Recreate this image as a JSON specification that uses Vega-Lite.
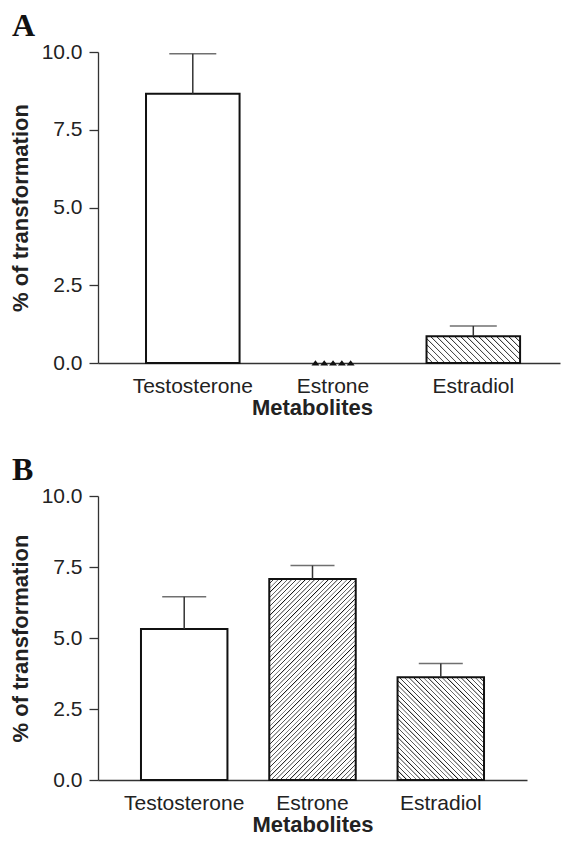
{
  "$schema": "https://vega.github.io/schema/vega-lite/v6.json",
  "padding": {"left": 9, "top": 10, "right": 5, "bottom": 5},
  "spacing": 36,
  "background": "white",
  "datasets": {
    "A": [
      {"metabolite": "Testosterone", "value": 8.66, "upper": 9.94},
      {"metabolite": "Estrone", "value": 0, "upper": 0},
      {"metabolite": "Estradiol", "value": 0.86, "upper": 1.19}
    ],
    "B": [
      {"metabolite": "Testosterone", "value": 5.32, "upper": 6.45},
      {"metabolite": "Estrone", "value": 7.08, "upper": 7.55},
      {"metabolite": "Estradiol", "value": 3.62, "upper": 4.10}
    ]
  },
  "config": {
    "view": {"stroke": null},
    "font": "Liberation Sans",
    "axis": {"domainColor": "#333", "tickColor": "#333", "labelColor": "#222", "titleColor": "#222", "labelFont": "Liberation Sans", "titleFont": "Liberation Sans", "labelFontSize": 21, "titleFontSize": 22, "titleFontWeight": "bold", "grid": false, "domainWidth": 1.3, "tickWidth": 1.3},
    "axisY": {"tickSize": 9, "labelPadding": 7, "titlePadding": 9},
    "axisX": {"ticks": false, "tickSize": 0, "labelAngle": 0, "labelPadding": 12, "titlePadding": 1}
  },
  "vconcat": [
    {
      "title": {"text": "A", "anchor": "start", "frame": "group", "font": "Liberation Serif", "fontSize": 32, "fontWeight": "bold", "color": "#111", "dx": -86, "dy": 31, "offset": 4, "baseline": "alphabetic"},
      "width": 462,
      "height": 311,
      "data": {"name": "A"},
      "encoding": {
        "x": {"field": "metabolite", "type": "nominal", "sort": ["Testosterone", "Estrone", "Estradiol"], "scale": {"paddingInner": 0.333, "paddingOuter": 0.3135, "align": 0.546}, "axis": {"title": "Metabolites", "titleX": 214}}
      },
      "layer": [
        {
          "transform": [{"filter": "datum.metabolite === 'Testosterone'"}],
          "mark": {"type": "bar", "fill": "#fff", "stroke": "#111", "strokeWidth": 2},
          "encoding": {"y": {"field": "value", "type": "quantitative", "title": "% of transformation", "scale": {"domain": [0, 10], "nice": false}, "axis": {"values": [0, 2.5, 5, 7.5, 10], "format": ".1f"}}}
        },
        {
          "transform": [{"filter": "datum.metabolite === 'Estradiol'"}],
          "mark": {"type": "bar", "stroke": "#111", "strokeWidth": 2, "fill": {"gradient": "linear", "x1": 0, "y1": 1, "x2": 1.188, "y2": 0.6625, "stops": [
            {"offset": 0, "color": "#111"}, {"offset": 0.0125, "color": "#fff"}, {"offset": 0.045, "color": "#fff"},
            {"offset": 0.05, "color": "#111"}, {"offset": 0.0625, "color": "#fff"}, {"offset": 0.095, "color": "#fff"},
            {"offset": 0.1, "color": "#111"}, {"offset": 0.1125, "color": "#fff"}, {"offset": 0.145, "color": "#fff"},
            {"offset": 0.15, "color": "#111"}, {"offset": 0.1625, "color": "#fff"}, {"offset": 0.195, "color": "#fff"},
            {"offset": 0.2, "color": "#111"}, {"offset": 0.2125, "color": "#fff"}, {"offset": 0.245, "color": "#fff"},
            {"offset": 0.25, "color": "#111"}, {"offset": 0.2625, "color": "#fff"}, {"offset": 0.295, "color": "#fff"},
            {"offset": 0.3, "color": "#111"}, {"offset": 0.3125, "color": "#fff"}, {"offset": 0.345, "color": "#fff"},
            {"offset": 0.35, "color": "#111"}, {"offset": 0.3625, "color": "#fff"}, {"offset": 0.395, "color": "#fff"},
            {"offset": 0.4, "color": "#111"}, {"offset": 0.4125, "color": "#fff"}, {"offset": 0.445, "color": "#fff"},
            {"offset": 0.45, "color": "#111"}, {"offset": 0.4625, "color": "#fff"}, {"offset": 0.495, "color": "#fff"},
            {"offset": 0.5, "color": "#111"}, {"offset": 0.5125, "color": "#fff"}, {"offset": 0.545, "color": "#fff"},
            {"offset": 0.55, "color": "#111"}, {"offset": 0.5625, "color": "#fff"}, {"offset": 0.595, "color": "#fff"},
            {"offset": 0.6, "color": "#111"}, {"offset": 0.6125, "color": "#fff"}, {"offset": 0.645, "color": "#fff"},
            {"offset": 0.65, "color": "#111"}, {"offset": 0.6625, "color": "#fff"}, {"offset": 0.695, "color": "#fff"},
            {"offset": 0.7, "color": "#111"}, {"offset": 0.7125, "color": "#fff"}, {"offset": 0.745, "color": "#fff"},
            {"offset": 0.75, "color": "#111"}, {"offset": 0.7625, "color": "#fff"}, {"offset": 0.795, "color": "#fff"},
            {"offset": 0.8, "color": "#111"}, {"offset": 0.8125, "color": "#fff"}, {"offset": 0.845, "color": "#fff"},
            {"offset": 0.85, "color": "#111"}, {"offset": 0.8625, "color": "#fff"}, {"offset": 0.895, "color": "#fff"},
            {"offset": 0.9, "color": "#111"}, {"offset": 0.9125, "color": "#fff"}, {"offset": 0.945, "color": "#fff"},
            {"offset": 0.95, "color": "#111"}, {"offset": 0.9625, "color": "#fff"}, {"offset": 0.995, "color": "#fff"},
            {"offset": 1, "color": "#111"}
          ]}},
          "encoding": {"y": {"field": "value", "type": "quantitative", "title": "% of transformation", "axis": {"values": [0, 2.5, 5, 7.5, 10], "format": ".1f"}}}
        },
        {
          "transform": [{"filter": "datum.metabolite !== 'Estrone'"}],
          "mark": {"type": "rule", "color": "#333", "strokeWidth": 1.5},
          "encoding": {"y": {"field": "value", "type": "quantitative", "title": "% of transformation", "axis": {"values": [0, 2.5, 5, 7.5, 10], "format": ".1f"}}, "y2": {"field": "upper"}}
        },
        {
          "transform": [{"filter": "datum.metabolite !== 'Estrone'"}],
          "mark": {"type": "tick", "color": "#333", "thickness": 1.5, "size": 47},
          "encoding": {"y": {"field": "upper", "type": "quantitative", "title": "% of transformation", "axis": {"values": [0, 2.5, 5, 7.5, 10], "format": ".1f"}}}
        },
        {
          "transform": [{"filter": "datum.metabolite === 'Estrone'"}],
          "mark": {"type": "point", "shape": "M-0.98,0.11L-0.8,-0.12L-0.62,0.11ZM-0.58,0.11L-0.4,-0.12L-0.22,0.11ZM-0.18,0.11L0,-0.12L0.18,0.11ZM0.22,0.11L0.4,-0.12L0.58,0.11ZM0.62,0.11L0.8,-0.12L0.98,0.11Z", "size": 1936, "filled": true, "color": "#111", "opacity": 1, "strokeWidth": 0},
          "encoding": {"y": {"field": "value", "type": "quantitative", "title": "% of transformation", "axis": {"values": [0, 2.5, 5, 7.5, 10], "format": ".1f"}}}
        }
      ]
    },
    {
      "title": {"text": "B", "anchor": "start", "frame": "group", "font": "Liberation Serif", "fontSize": 32, "fontWeight": "bold", "color": "#111", "dx": -86, "dy": 31, "offset": 4, "baseline": "alphabetic"},
      "width": 429,
      "height": 284,
      "data": {"name": "B"},
      "encoding": {
        "x": {"field": "metabolite", "type": "nominal", "sort": ["Testosterone", "Estrone", "Estradiol"], "scale": {"paddingInner": 0.326, "paddingOuter": 0.335, "align": 0.5}, "axis": {"title": "Metabolites"}}
      },
      "layer": [
        {
          "transform": [{"filter": "datum.metabolite === 'Testosterone'"}],
          "mark": {"type": "bar", "fill": "#fff", "stroke": "#111", "strokeWidth": 2},
          "encoding": {"y": {"field": "value", "type": "quantitative", "title": "% of transformation", "scale": {"domain": [0, 10], "nice": false}, "axis": {"values": [0, 2.5, 5, 7.5, 10], "format": ".1f"}}}
        },
        {
          "transform": [{"filter": "datum.metabolite === 'Estrone'"}],
          "mark": {"type": "bar", "stroke": "#111", "strokeWidth": 2, "fill": {"gradient": "linear", "x1": 0, "y1": 0, "x2": 0.5193, "y2": 1.2069, "stops": [
            {"offset": 0, "color": "#111"}, {"offset": 0.004, "color": "#fff"}, {"offset": 0.0144, "color": "#fff"},
            {"offset": 0.016, "color": "#111"}, {"offset": 0.02, "color": "#fff"}, {"offset": 0.0304, "color": "#fff"},
            {"offset": 0.032, "color": "#111"}, {"offset": 0.036, "color": "#fff"}, {"offset": 0.0464, "color": "#fff"},
            {"offset": 0.048, "color": "#111"}, {"offset": 0.052, "color": "#fff"}, {"offset": 0.0624, "color": "#fff"},
            {"offset": 0.064, "color": "#111"}, {"offset": 0.068, "color": "#fff"}, {"offset": 0.0784, "color": "#fff"},
            {"offset": 0.08, "color": "#111"}, {"offset": 0.084, "color": "#fff"}, {"offset": 0.0944, "color": "#fff"},
            {"offset": 0.096, "color": "#111"}, {"offset": 0.1, "color": "#fff"}, {"offset": 0.1104, "color": "#fff"},
            {"offset": 0.112, "color": "#111"}, {"offset": 0.116, "color": "#fff"}, {"offset": 0.1264, "color": "#fff"},
            {"offset": 0.128, "color": "#111"}, {"offset": 0.132, "color": "#fff"}, {"offset": 0.1424, "color": "#fff"},
            {"offset": 0.144, "color": "#111"}, {"offset": 0.148, "color": "#fff"}, {"offset": 0.1584, "color": "#fff"},
            {"offset": 0.16, "color": "#111"}, {"offset": 0.164, "color": "#fff"}, {"offset": 0.1744, "color": "#fff"},
            {"offset": 0.176, "color": "#111"}, {"offset": 0.18, "color": "#fff"}, {"offset": 0.1904, "color": "#fff"},
            {"offset": 0.192, "color": "#111"}, {"offset": 0.196, "color": "#fff"}, {"offset": 0.2064, "color": "#fff"},
            {"offset": 0.208, "color": "#111"}, {"offset": 0.212, "color": "#fff"}, {"offset": 0.2224, "color": "#fff"},
            {"offset": 0.224, "color": "#111"}, {"offset": 0.228, "color": "#fff"}, {"offset": 0.2384, "color": "#fff"},
            {"offset": 0.24, "color": "#111"}, {"offset": 0.244, "color": "#fff"}, {"offset": 0.2544, "color": "#fff"},
            {"offset": 0.256, "color": "#111"}, {"offset": 0.26, "color": "#fff"}, {"offset": 0.2704, "color": "#fff"},
            {"offset": 0.272, "color": "#111"}, {"offset": 0.276, "color": "#fff"}, {"offset": 0.2864, "color": "#fff"},
            {"offset": 0.288, "color": "#111"}, {"offset": 0.292, "color": "#fff"}, {"offset": 0.3024, "color": "#fff"},
            {"offset": 0.304, "color": "#111"}, {"offset": 0.308, "color": "#fff"}, {"offset": 0.3184, "color": "#fff"},
            {"offset": 0.32, "color": "#111"}, {"offset": 0.324, "color": "#fff"}, {"offset": 0.3344, "color": "#fff"},
            {"offset": 0.336, "color": "#111"}, {"offset": 0.34, "color": "#fff"}, {"offset": 0.3504, "color": "#fff"},
            {"offset": 0.352, "color": "#111"}, {"offset": 0.356, "color": "#fff"}, {"offset": 0.3664, "color": "#fff"},
            {"offset": 0.368, "color": "#111"}, {"offset": 0.372, "color": "#fff"}, {"offset": 0.3824, "color": "#fff"},
            {"offset": 0.384, "color": "#111"}, {"offset": 0.388, "color": "#fff"}, {"offset": 0.3984, "color": "#fff"},
            {"offset": 0.4, "color": "#111"}, {"offset": 0.404, "color": "#fff"}, {"offset": 0.4144, "color": "#fff"},
            {"offset": 0.416, "color": "#111"}, {"offset": 0.42, "color": "#fff"}, {"offset": 0.4304, "color": "#fff"},
            {"offset": 0.432, "color": "#111"}, {"offset": 0.436, "color": "#fff"}, {"offset": 0.4464, "color": "#fff"},
            {"offset": 0.448, "color": "#111"}, {"offset": 0.452, "color": "#fff"}, {"offset": 0.4624, "color": "#fff"},
            {"offset": 0.464, "color": "#111"}, {"offset": 0.468, "color": "#fff"}, {"offset": 0.4784, "color": "#fff"},
            {"offset": 0.48, "color": "#111"}, {"offset": 0.484, "color": "#fff"}, {"offset": 0.4944, "color": "#fff"},
            {"offset": 0.496, "color": "#111"}, {"offset": 0.5, "color": "#fff"}, {"offset": 0.5104, "color": "#fff"},
            {"offset": 0.512, "color": "#111"}, {"offset": 0.516, "color": "#fff"}, {"offset": 0.5264, "color": "#fff"},
            {"offset": 0.528, "color": "#111"}, {"offset": 0.532, "color": "#fff"}, {"offset": 0.5424, "color": "#fff"},
            {"offset": 0.544, "color": "#111"}, {"offset": 0.548, "color": "#fff"}, {"offset": 0.5584, "color": "#fff"},
            {"offset": 0.56, "color": "#111"}, {"offset": 0.564, "color": "#fff"}, {"offset": 0.5744, "color": "#fff"},
            {"offset": 0.576, "color": "#111"}, {"offset": 0.58, "color": "#fff"}, {"offset": 0.5904, "color": "#fff"},
            {"offset": 0.592, "color": "#111"}, {"offset": 0.596, "color": "#fff"}, {"offset": 0.6064, "color": "#fff"},
            {"offset": 0.608, "color": "#111"}, {"offset": 0.612, "color": "#fff"}, {"offset": 0.6224, "color": "#fff"},
            {"offset": 0.624, "color": "#111"}, {"offset": 0.628, "color": "#fff"}, {"offset": 0.6384, "color": "#fff"},
            {"offset": 0.64, "color": "#111"}, {"offset": 0.644, "color": "#fff"}, {"offset": 0.6544, "color": "#fff"},
            {"offset": 0.656, "color": "#111"}, {"offset": 0.66, "color": "#fff"}, {"offset": 0.6704, "color": "#fff"},
            {"offset": 0.672, "color": "#111"}, {"offset": 0.676, "color": "#fff"}, {"offset": 0.6864, "color": "#fff"},
            {"offset": 0.688, "color": "#111"}, {"offset": 0.692, "color": "#fff"}, {"offset": 0.7024, "color": "#fff"},
            {"offset": 0.704, "color": "#111"}, {"offset": 0.708, "color": "#fff"}, {"offset": 0.7184, "color": "#fff"},
            {"offset": 0.72, "color": "#111"}, {"offset": 0.724, "color": "#fff"}, {"offset": 0.7344, "color": "#fff"},
            {"offset": 0.736, "color": "#111"}, {"offset": 0.74, "color": "#fff"}, {"offset": 0.7504, "color": "#fff"},
            {"offset": 0.752, "color": "#111"}, {"offset": 0.756, "color": "#fff"}, {"offset": 0.7664, "color": "#fff"},
            {"offset": 0.768, "color": "#111"}, {"offset": 0.772, "color": "#fff"}, {"offset": 0.7824, "color": "#fff"},
            {"offset": 0.784, "color": "#111"}, {"offset": 0.788, "color": "#fff"}, {"offset": 0.7984, "color": "#fff"},
            {"offset": 0.8, "color": "#111"}, {"offset": 0.804, "color": "#fff"}, {"offset": 0.8144, "color": "#fff"},
            {"offset": 0.816, "color": "#111"}, {"offset": 0.82, "color": "#fff"}, {"offset": 0.8304, "color": "#fff"},
            {"offset": 0.832, "color": "#111"}, {"offset": 0.836, "color": "#fff"}, {"offset": 0.8464, "color": "#fff"},
            {"offset": 0.848, "color": "#111"}, {"offset": 0.852, "color": "#fff"}, {"offset": 0.8624, "color": "#fff"},
            {"offset": 0.864, "color": "#111"}, {"offset": 0.868, "color": "#fff"}, {"offset": 0.8784, "color": "#fff"},
            {"offset": 0.88, "color": "#111"}, {"offset": 0.884, "color": "#fff"}, {"offset": 0.8944, "color": "#fff"},
            {"offset": 0.896, "color": "#111"}, {"offset": 0.9, "color": "#fff"}, {"offset": 0.9104, "color": "#fff"},
            {"offset": 0.912, "color": "#111"}, {"offset": 0.916, "color": "#fff"}, {"offset": 0.9264, "color": "#fff"},
            {"offset": 0.928, "color": "#111"}, {"offset": 0.932, "color": "#fff"}, {"offset": 0.9424, "color": "#fff"},
            {"offset": 0.944, "color": "#111"}, {"offset": 0.948, "color": "#fff"}, {"offset": 0.9584, "color": "#fff"},
            {"offset": 0.96, "color": "#111"}, {"offset": 0.964, "color": "#fff"}, {"offset": 0.9744, "color": "#fff"},
            {"offset": 0.976, "color": "#111"}, {"offset": 0.98, "color": "#fff"}, {"offset": 0.9904, "color": "#fff"},
            {"offset": 0.992, "color": "#111"}, {"offset": 0.996, "color": "#fff"}, {"offset": 1, "color": "#fff"}
          ]}},
          "encoding": {"y": {"field": "value", "type": "quantitative", "title": "% of transformation", "axis": {"values": [0, 2.5, 5, 7.5, 10], "format": ".1f"}}}
        },
        {
          "transform": [{"filter": "datum.metabolite === 'Estradiol'"}],
          "mark": {"type": "bar", "stroke": "#111", "strokeWidth": 2, "fill": {"gradient": "linear", "x1": 0, "y1": 1, "x2": 0.9084, "y2": -0.0774, "stops": [
            {"offset": 0, "color": "#111"}, {"offset": 0.00625, "color": "#fff"}, {"offset": 0.0225, "color": "#fff"},
            {"offset": 0.025, "color": "#111"}, {"offset": 0.03125, "color": "#fff"}, {"offset": 0.0475, "color": "#fff"},
            {"offset": 0.05, "color": "#111"}, {"offset": 0.05625, "color": "#fff"}, {"offset": 0.0725, "color": "#fff"},
            {"offset": 0.075, "color": "#111"}, {"offset": 0.08125, "color": "#fff"}, {"offset": 0.0975, "color": "#fff"},
            {"offset": 0.1, "color": "#111"}, {"offset": 0.10625, "color": "#fff"}, {"offset": 0.1225, "color": "#fff"},
            {"offset": 0.125, "color": "#111"}, {"offset": 0.13125, "color": "#fff"}, {"offset": 0.1475, "color": "#fff"},
            {"offset": 0.15, "color": "#111"}, {"offset": 0.15625, "color": "#fff"}, {"offset": 0.1725, "color": "#fff"},
            {"offset": 0.175, "color": "#111"}, {"offset": 0.18125, "color": "#fff"}, {"offset": 0.1975, "color": "#fff"},
            {"offset": 0.2, "color": "#111"}, {"offset": 0.20625, "color": "#fff"}, {"offset": 0.2225, "color": "#fff"},
            {"offset": 0.225, "color": "#111"}, {"offset": 0.23125, "color": "#fff"}, {"offset": 0.2475, "color": "#fff"},
            {"offset": 0.25, "color": "#111"}, {"offset": 0.25625, "color": "#fff"}, {"offset": 0.2725, "color": "#fff"},
            {"offset": 0.275, "color": "#111"}, {"offset": 0.28125, "color": "#fff"}, {"offset": 0.2975, "color": "#fff"},
            {"offset": 0.3, "color": "#111"}, {"offset": 0.30625, "color": "#fff"}, {"offset": 0.3225, "color": "#fff"},
            {"offset": 0.325, "color": "#111"}, {"offset": 0.33125, "color": "#fff"}, {"offset": 0.3475, "color": "#fff"},
            {"offset": 0.35, "color": "#111"}, {"offset": 0.35625, "color": "#fff"}, {"offset": 0.3725, "color": "#fff"},
            {"offset": 0.375, "color": "#111"}, {"offset": 0.38125, "color": "#fff"}, {"offset": 0.3975, "color": "#fff"},
            {"offset": 0.4, "color": "#111"}, {"offset": 0.40625, "color": "#fff"}, {"offset": 0.4225, "color": "#fff"},
            {"offset": 0.425, "color": "#111"}, {"offset": 0.43125, "color": "#fff"}, {"offset": 0.4475, "color": "#fff"},
            {"offset": 0.45, "color": "#111"}, {"offset": 0.45625, "color": "#fff"}, {"offset": 0.4725, "color": "#fff"},
            {"offset": 0.475, "color": "#111"}, {"offset": 0.48125, "color": "#fff"}, {"offset": 0.4975, "color": "#fff"},
            {"offset": 0.5, "color": "#111"}, {"offset": 0.50625, "color": "#fff"}, {"offset": 0.5225, "color": "#fff"},
            {"offset": 0.525, "color": "#111"}, {"offset": 0.53125, "color": "#fff"}, {"offset": 0.5475, "color": "#fff"},
            {"offset": 0.55, "color": "#111"}, {"offset": 0.55625, "color": "#fff"}, {"offset": 0.5725, "color": "#fff"},
            {"offset": 0.575, "color": "#111"}, {"offset": 0.58125, "color": "#fff"}, {"offset": 0.5975, "color": "#fff"},
            {"offset": 0.6, "color": "#111"}, {"offset": 0.60625, "color": "#fff"}, {"offset": 0.6225, "color": "#fff"},
            {"offset": 0.625, "color": "#111"}, {"offset": 0.63125, "color": "#fff"}, {"offset": 0.6475, "color": "#fff"},
            {"offset": 0.65, "color": "#111"}, {"offset": 0.65625, "color": "#fff"}, {"offset": 0.6725, "color": "#fff"},
            {"offset": 0.675, "color": "#111"}, {"offset": 0.68125, "color": "#fff"}, {"offset": 0.6975, "color": "#fff"},
            {"offset": 0.7, "color": "#111"}, {"offset": 0.70625, "color": "#fff"}, {"offset": 0.7225, "color": "#fff"},
            {"offset": 0.725, "color": "#111"}, {"offset": 0.73125, "color": "#fff"}, {"offset": 0.7475, "color": "#fff"},
            {"offset": 0.75, "color": "#111"}, {"offset": 0.75625, "color": "#fff"}, {"offset": 0.7725, "color": "#fff"},
            {"offset": 0.775, "color": "#111"}, {"offset": 0.78125, "color": "#fff"}, {"offset": 0.7975, "color": "#fff"},
            {"offset": 0.8, "color": "#111"}, {"offset": 0.80625, "color": "#fff"}, {"offset": 0.8225, "color": "#fff"},
            {"offset": 0.825, "color": "#111"}, {"offset": 0.83125, "color": "#fff"}, {"offset": 0.8475, "color": "#fff"},
            {"offset": 0.85, "color": "#111"}, {"offset": 0.85625, "color": "#fff"}, {"offset": 0.8725, "color": "#fff"},
            {"offset": 0.875, "color": "#111"}, {"offset": 0.88125, "color": "#fff"}, {"offset": 0.8975, "color": "#fff"},
            {"offset": 0.9, "color": "#111"}, {"offset": 0.90625, "color": "#fff"}, {"offset": 0.9225, "color": "#fff"},
            {"offset": 0.925, "color": "#111"}, {"offset": 0.93125, "color": "#fff"}, {"offset": 0.9475, "color": "#fff"},
            {"offset": 0.95, "color": "#111"}, {"offset": 0.95625, "color": "#fff"}, {"offset": 0.9725, "color": "#fff"},
            {"offset": 0.975, "color": "#111"}, {"offset": 0.98125, "color": "#fff"}, {"offset": 0.9975, "color": "#fff"},
            {"offset": 1, "color": "#111"}
          ]}},
          "encoding": {"y": {"field": "value", "type": "quantitative", "title": "% of transformation", "axis": {"values": [0, 2.5, 5, 7.5, 10], "format": ".1f"}}}
        },
        {
          "mark": {"type": "rule", "color": "#333", "strokeWidth": 1.5},
          "encoding": {"y": {"field": "value", "type": "quantitative", "title": "% of transformation", "axis": {"values": [0, 2.5, 5, 7.5, 10], "format": ".1f"}}, "y2": {"field": "upper"}}
        },
        {
          "mark": {"type": "tick", "color": "#333", "thickness": 1.5, "size": 44},
          "encoding": {"y": {"field": "upper", "type": "quantitative", "title": "% of transformation", "axis": {"values": [0, 2.5, 5, 7.5, 10], "format": ".1f"}}}
        }
      ]
    }
  ]
}
